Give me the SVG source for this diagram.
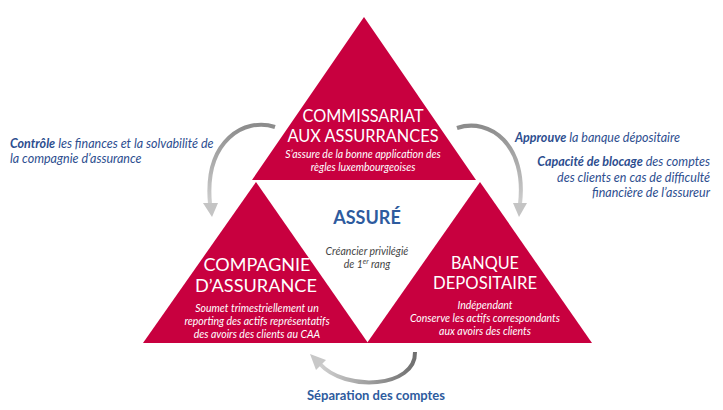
<svg xmlns="http://www.w3.org/2000/svg" width="723" height="410" viewBox="0 0 723 410">
  <defs>
    <linearGradient id="gL" x1="0" y1="0" x2="0" y2="1">
      <stop offset="0" stop-color="#8c8c8c"/>
      <stop offset="1" stop-color="#cfcfcf"/>
    </linearGradient>
    <linearGradient id="gR" x1="0" y1="0" x2="0" y2="1">
      <stop offset="0" stop-color="#8c8c8c"/>
      <stop offset="1" stop-color="#cfcfcf"/>
    </linearGradient>
    <linearGradient id="gB" x1="1" y1="0" x2="0" y2="0">
      <stop offset="0" stop-color="#6f6f6f"/>
      <stop offset="1" stop-color="#d0d0d0"/>
    </linearGradient>
  </defs>
  <style>
    .tri { fill: #C8003F; }
    .title { font-family: Lato, "Liberation Sans", sans-serif; font-size: 18px; font-weight: 400; fill: #ffffff; text-anchor: middle; }
    .sub { font-family: Lato, "Liberation Sans", sans-serif; font-size: 10.5px; font-style: italic; fill: #ffffff; text-anchor: middle; }
    .ann { font-family: Lato, "Liberation Sans", sans-serif; font-size: 12.5px; font-style: italic; fill: #2D4E8F; }
    .ann tspan.b { font-weight: bold; }
    .center { font-family: Lato, "Liberation Sans", sans-serif; font-size: 10.5px; font-style: italic; fill: #444444; text-anchor: middle; }
    .arc { fill: none; stroke-width: 4; stroke-linecap: butt; }
  </style>

  <g id="connectors">
    <g id="arrow-left">
      <path class="arc" stroke="url(#gL)" d="M 275,127 C 245,117 204,140 210,204"/>
      <polygon points="203,203 218,203 212,217" fill="#c4c4c4"/>
    </g>
    <g id="arrow-right">
      <path class="arc" stroke="url(#gR)" d="M 457,128 C 490,117 527,145 520,204"/>
      <polygon points="513,203 527,203 519,217" fill="#c4c4c4"/>
    </g>
    <g id="arrow-bottom">
      <path class="arc" stroke="url(#gB)" d="M 415,352 C 416,388 345,392 320,364"/>
      <polygon points="310,354 326,360 316,370" fill="#c8c8c8"/>
    </g>
  </g>

  <g id="node-caa">
    <polygon class="tri" points="364,17 476,180 252,180"/>
    <text class="title" x="363" y="122" textLength="121" lengthAdjust="spacingAndGlyphs">COMMISSARIAT</text>
    <text class="title" x="363" y="142" textLength="151" lengthAdjust="spacingAndGlyphs">AUX ASSURRANCES</text>
    <text class="sub" x="363" y="158">S’assure de la bonne application des</text>
    <text class="sub" x="363" y="171">règles luxembourgeoises</text>
  </g>

  <g id="node-compagnie">
    <polygon class="tri" points="256,182 368,343 143,343"/>
    <text class="title" x="257" y="271" textLength="107" lengthAdjust="spacingAndGlyphs">COMPAGNIE</text>
    <text class="title" x="256" y="292" textLength="122" lengthAdjust="spacingAndGlyphs">D’ASSURANCE</text>
    <text class="sub" x="257" y="312">Soumet trimestriellement un</text>
    <text class="sub" x="257" y="325">reporting des actifs représentatifs</text>
    <text class="sub" x="257" y="338">des avoirs des clients au CAA</text>
  </g>

  <g id="node-banque">
    <polygon class="tri" points="480,182 592,343 367,343"/>
    <text class="title" x="485" y="269" textLength="68" lengthAdjust="spacingAndGlyphs">BANQUE</text>
    <text class="title" x="485" y="289" textLength="104" lengthAdjust="spacingAndGlyphs">DEPOSITAIRE</text>
    <text class="sub" x="485" y="309">Indépendant</text>
    <text class="sub" x="485" y="322">Conserve les actifs correspondants</text>
    <text class="sub" x="485" y="335">aux avoirs des clients</text>
  </g>

  <g id="node-assure">
    <text x="367" y="224" font-family="Lato, 'Liberation Sans', sans-serif" font-size="18" font-weight="bold" fill="#2E5B9E" text-anchor="middle">ASSURÉ</text>
    <text class="center" x="367" y="255">Créancier privilégié</text>
    <text class="center" x="367" y="268">de 1<tspan font-size="7" dy="-4">er</tspan><tspan dy="4"> rang</tspan></text>
  </g>

  <g id="label-controle">
    <text class="ann" x="10" y="148"><tspan class="b">Contrôle</tspan> les finances et la solvabilité de</text>
    <text class="ann" x="10" y="163">la compagnie d’assurance</text>
  </g>

  <g id="label-approuve">
    <text class="ann" x="515" y="142"><tspan class="b">Approuve</tspan> la banque dépositaire</text>
    <text class="ann" x="710" y="166" text-anchor="end"><tspan class="b">Capacité de blocage</tspan> des comptes</text>
    <text class="ann" x="710" y="182" text-anchor="end">des clients en cas de difficulté</text>
    <text class="ann" x="710" y="197" text-anchor="end">financière de l’assureur</text>
  </g>

  <g id="label-separation">
    <text x="376" y="400" font-family="Lato, 'Liberation Sans', sans-serif" font-size="13" font-weight="bold" fill="#2E5B9E" text-anchor="middle">Séparation des comptes</text>
  </g>
</svg>
